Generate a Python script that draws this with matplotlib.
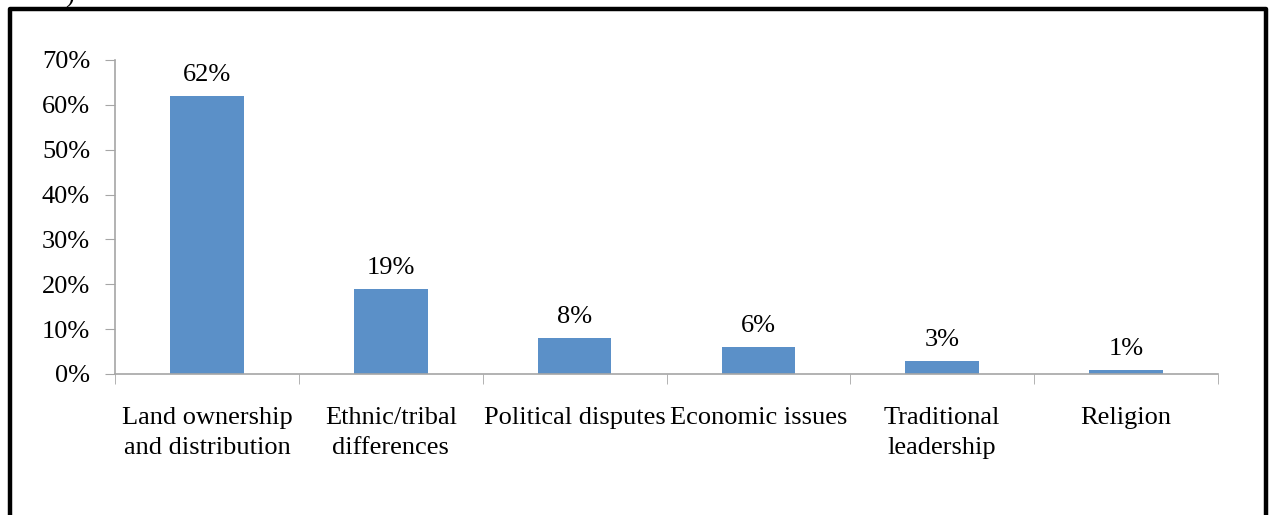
import matplotlib.pyplot as plt
from matplotlib.lines import Line2D
from matplotlib.ticker import FuncFormatter, FixedLocator

categories = ["Land ownership\nand distribution", "Ethnic/tribal\ndifferences",
              "Political disputes", "Economic issues", "Traditional\nleadership", "Religion"]
values = [62, 19, 8, 6, 3, 1]

plt.rcParams["font.family"] = ["Liberation Serif", "DejaVu Serif"]
AXIS = "#a6a6a6"
BAR = "#5b90c8"
FS = 19

fig = plt.figure(figsize=(12.69, 5.15), dpi=100)
ax = fig.add_axes([115 / 1269, 1 - 374 / 515, (1218 - 115) / 1269, (374 - 60) / 515])

x = range(len(values))
bars = ax.bar(x, values, width=0.4, color=BAR)
for b, v in zip(bars, values):
    ax.annotate(f"{v}%", (b.get_x() + b.get_width() / 2, v), xytext=(0, 7),
                textcoords="offset points", ha="center", va="bottom", fontsize=FS)

ax.set_xlim(-0.5, len(values) - 0.5)
ax.set_ylim(0, 70)
ax.set_yticks(range(0, 71, 10))
ax.yaxis.set_major_formatter(FuncFormatter(lambda v, p: f"{v:.0f}%"))
ax.set_xticks(list(x))
ax.set_xticklabels(categories, fontsize=FS, linespacing=1.45)
ax.xaxis.set_minor_locator(FixedLocator([i - 0.5 for i in range(len(values) + 1)]))
ax.tick_params(axis="x", which="major", length=0, pad=24)
ax.tick_params(axis="x", which="minor", length=7, color=AXIS, direction="out")
ax.tick_params(axis="y", length=7, color=AXIS, labelsize=FS, pad=11)
for s in ["top", "right"]:
    ax.spines[s].set_visible(False)
for s in ["left", "bottom"]:
    ax.spines[s].set_color(AXIS)
    ax.spines[s].set_linewidth(1.2)

# outer frame (bottom edge cut off in the source)
W, H = 1269, 515
pts = [(10 / W, 0), (10 / W, 1 - 9 / H), (1266 / W, 1 - 9 / H), (1266 / W, 0)]
fig.add_artist(Line2D([p[0] for p in pts], [p[1] for p in pts], color="black",
                      linewidth=3.2, transform=fig.transFigure))
# tail of a cut-off panel label above the frame
fig.text(70 / W, 1 - 3 / H, ")", fontsize=FS, ha="center", va="baseline")

fig.savefig("out.png", dpi=100)
